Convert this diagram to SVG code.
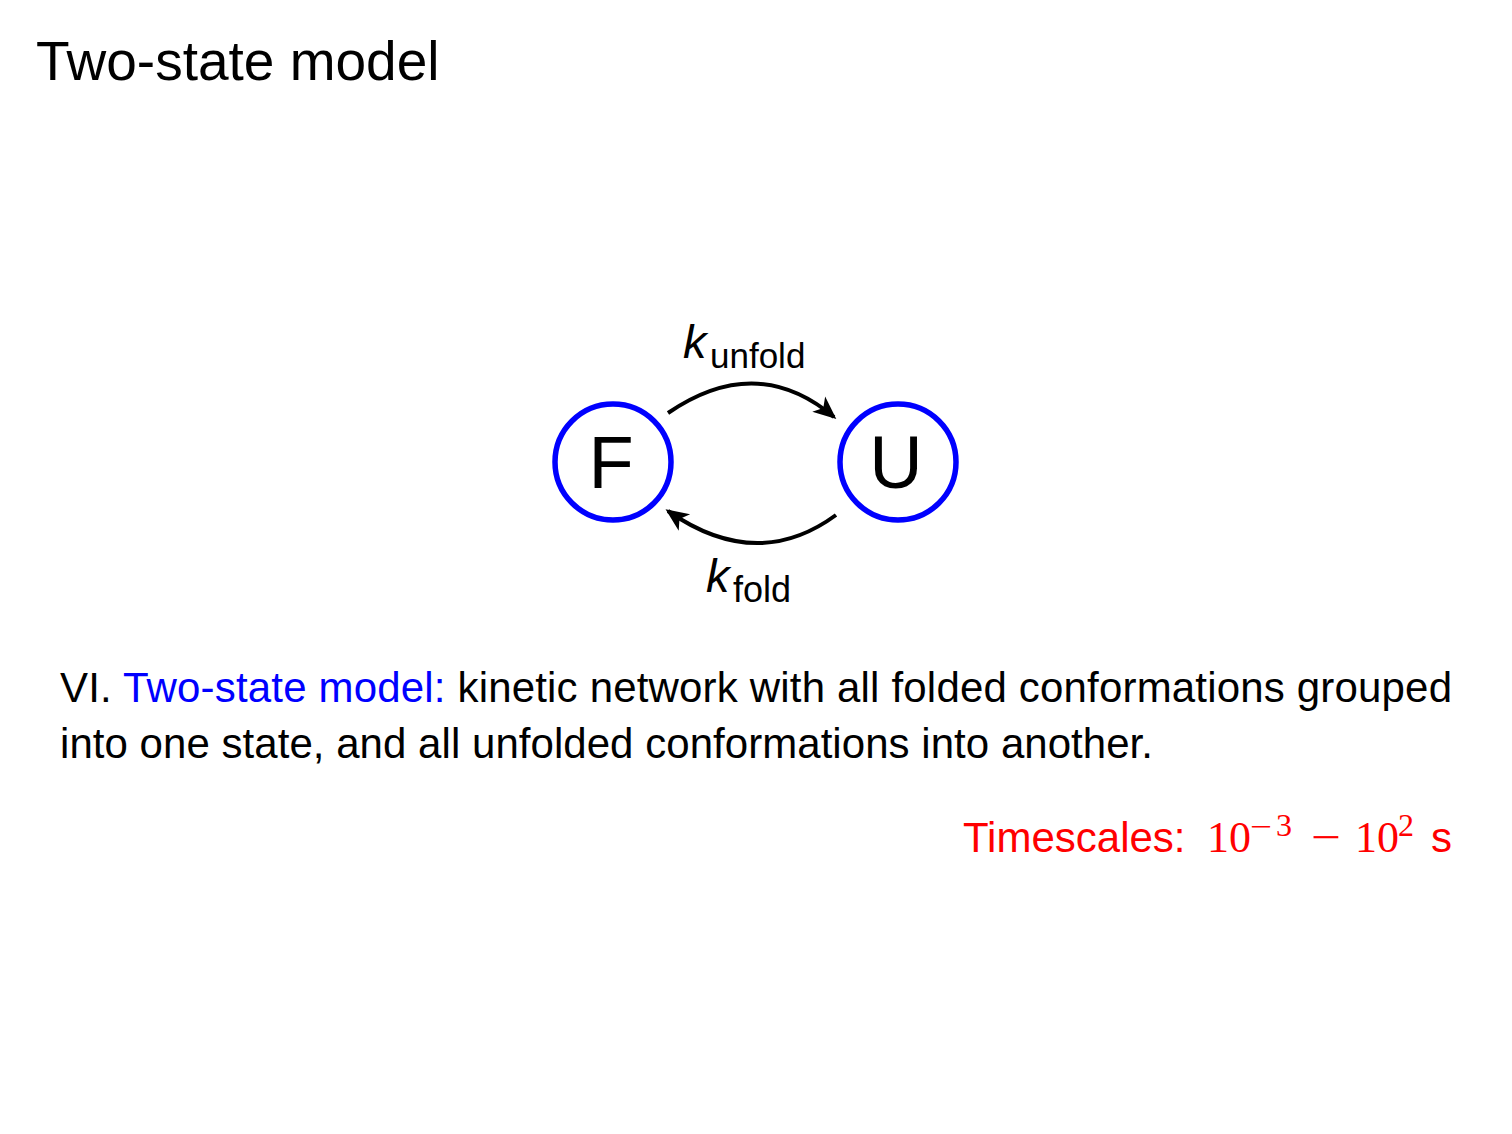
<svg xmlns="http://www.w3.org/2000/svg" width="1512" height="1134" viewBox="0 0 1512 1134">
<style>
.sans{font-family:"Liberation Sans",Arial,Helvetica,sans-serif}
.serif{font-family:"Liberation Serif","Times New Roman",serif}
.node{fill:#fff;stroke:#0000ff;stroke-width:5.5}
.lbl{font-size:74px;fill:#000}
.edge{fill:none;stroke:#000;stroke-width:4}
.body{font-size:42px;fill:#000}
</style>
<defs>
<marker id="arr" markerUnits="userSpaceOnUse" markerWidth="30" markerHeight="24" viewBox="-24 -12 30 24" refX="-3" refY="0" orient="auto">
<path d="M0,0 L-23,-10 L-17,0 L-23,10 Z" fill="#000"/>
</marker>
</defs>
<rect width="1512" height="1134" fill="#fff"/>
<text class="sans" x="36" y="80" font-size="55" fill="#000">Two-state model</text>
<g id="connectors">
<path class="edge" d="M668,413 Q757,352 834,417" marker-end="url(#arr)"/>
<path class="edge" d="M836,515 Q757,573 668,511" marker-end="url(#arr)"/>
<text class="sans" x="683" y="358" font-size="47" font-style="italic">k</text>
<text class="sans" x="710" y="368" font-size="35">unfold</text>
<text class="sans" x="706" y="592" font-size="47" font-style="italic">k</text>
<text class="sans" x="733" y="602" font-size="36">fold</text>
</g>
<g id="node-F">
<circle class="node" cx="613" cy="462" r="58"/>
<text class="sans lbl" x="611" y="488" text-anchor="middle">F</text>
</g>
<g id="node-U">
<circle class="node" cx="898" cy="462" r="58"/>
<text class="sans lbl" x="896" y="488" text-anchor="middle">U</text>
</g>
<text class="sans body" x="60" y="702" textLength="1392" lengthAdjust="spacing">VI. <tspan fill="#0000ff">Two-state model:</tspan> kinetic network with all folded conformations grouped</text>
<text class="sans body" x="60" y="758" textLength="1093" lengthAdjust="spacing">into one state, and all unfolded conformations into another.</text>
<g fill="#ff0000">
<text class="sans" x="963" y="852" font-size="42">Timescales:</text>
<text class="serif" x="1207" y="852" font-size="44">10</text>
<text class="serif" x="1250" y="837" font-size="31" textLength="22" lengthAdjust="spacingAndGlyphs">−</text>
<text class="serif" x="1276" y="836" font-size="32">3</text>
<text class="serif" x="1311" y="852" font-size="44" textLength="30" lengthAdjust="spacingAndGlyphs">−</text>
<text class="serif" x="1355" y="852" font-size="44">10</text>
<text class="serif" x="1398" y="836" font-size="32">2</text>
<text class="sans" x="1431" y="852" font-size="42">s</text>
</g>
</svg>
